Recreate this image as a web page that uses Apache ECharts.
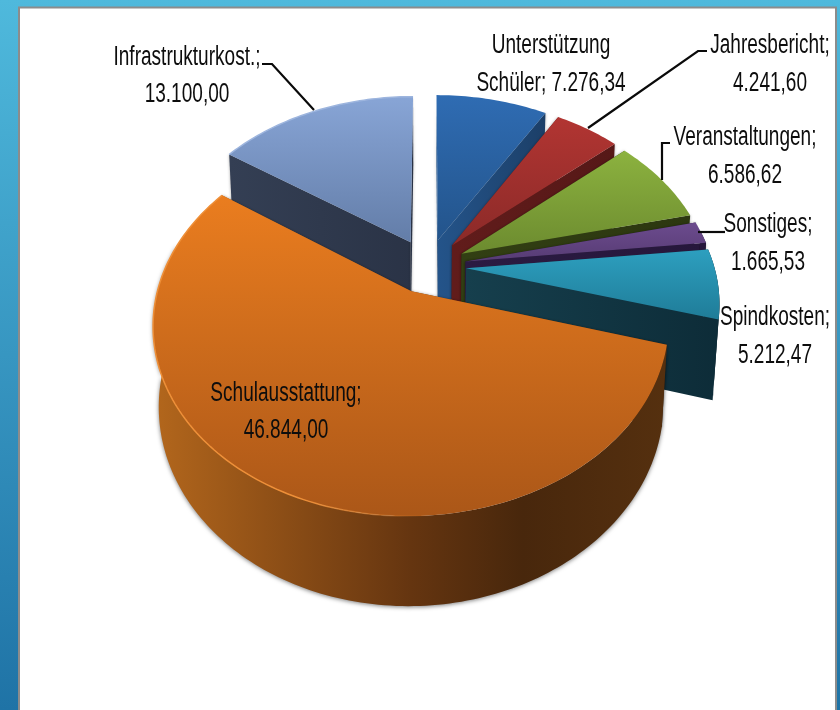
<!DOCTYPE html>
<html>
<head>
<meta charset="utf-8">
<style>
  html, body { margin: 0; padding: 0; background: #fff; }
  #main { width: 840px; height: 710px; }
</style>
<script src="https://cdn.jsdelivr.net/npm/echarts@6/dist/echarts.min.js"></script>
</head>
<body>
<div id="main"></div>
<script>
  // slices clockwise from 12 o'clock
  const categories = ['Unterstützung\nSchüler', 'Jahresbericht', 'Veranstaltungen', 'Sonstiges', 'Spindkosten', 'Schulausstattung', 'Infrastrukturkost.'];
  const amounts = [7276.34, 4241.60, 6586.62, 1665.53, 5212.47, 46844.00, 13100.00];
  const drawOrder = [6, 0, 1, 2, 3, 4, 5];

  // colours per slice: top from/to, end wall from/to
  const topFrom = ['#2f6cb3', '#b23532', '#8cb23f', '#6c4b8e', '#2d9fbf', '#ea7d1f', '#88a5d6'];
  const topTo = ['#23548b', '#8b2a28', '#6c8b2f', '#573c74', '#1f7c98', '#ab5718', '#637da8'];
  const wallFrom = ['#24548a', '#611c1b', '#323f13', '#2b1b42', '#163f4d', '#b0641c', '#343f54'];
  const wallTo = ['#1c3f68', '#561817', '#2c3710', '#26173b', '#0d2c38', '#48270c', '#2a3346'];

  // label centres and leader lines
  const labelPos = [[551, 64.5], [770, 64.5], [745, 156.5], [768, 243.5], [775, 336.5], [286, 412], [187, 76]];
  const leaders = [
    null,
    [[707, 51], [698, 51], [588, 128]],
    [[670, 143], [662, 143], [662, 180]],
    [[725, 232], [698, 232]],
    null,
    null,
    [[262, 64], [272, 64], [314, 110]]
  ];

  // camera fitted to the picture
  const cx = 428, cy = 266, focal = 248, depthY = 177.5, wallH = 79.6;
  const persp = 0.168, perspZ = 0.02, explode = 0.154;

  function project(x, y, z) {
    const w = 1 + persp * y - perspZ * z;
    return [cx + focal * x / w, cy - (depthY * y + wallH * z) / w];
  }

  const total = amounts.reduce((a, b) => a + b, 0);
  let run = 0;
  const slices = amounts.map(v => {
    const from = run / total * Math.PI * 2;
    run += v;
    const to = run / total * Math.PI * 2;
    const mid = (from + to) / 2;
    return {from, to, ox: Math.sin(mid) * explode, oy: Math.cos(mid) * explode};
  });

  function arcPoints(s, a0, a1, z) {
    const pts = [];
    const n = Math.max(2, Math.ceil((a1 - a0) / 0.02));
    for (let k = 0; k <= n; k++) {
      const a = a0 + (a1 - a0) * k / n;
      pts.push(project(s.ox + Math.sin(a), s.oy + Math.cos(a), z));
    }
    return pts;
  }

  function gradient(x0, y0, x1, y1, c0, c1) {
    return new echarts.graphic.LinearGradient(x0, y0, x1, y1, [
      {offset: 0, color: c0}, {offset: 1, color: c1}
    ], true);
  }

  function radialWall(s, a, fill, shadow) {
    const ox = s.ox + Math.sin(a), oy = s.oy + Math.cos(a);
    return {
      type: 'polygon',
      shape: {points: [project(s.ox, s.oy, 0), project(ox, oy, 0), project(ox, oy, -1), project(s.ox, s.oy, -1)]},
      style: {fill: fill, shadowBlur: shadow, shadowColor: 'rgba(0,0,0,0.35)'}
    };
  }

  function renderSlice(params, api) {
    const i = api.value(0);
    const s = slices[i];
    const top = arcPoints(s, s.from, s.to, 0);
    const xs = top.map(p => p[0]), ys = top.map(p => p[1]);
    const apex = project(s.ox, s.oy, 0);
    const minX = Math.min.apply(null, xs.concat(apex[0])), maxX = Math.max.apply(null, xs.concat(apex[0]));
    const minY = Math.min.apply(null, ys.concat(apex[1])), maxY = Math.max.apply(null, ys.concat(apex[1]));

    const wallFill = gradient(minX, 0, maxX, 0, wallFrom[i], wallTo[i]);
    const wallShadow = i === 4 ? 0 : 3;
    const radial = [radialWall(s, s.from, wallFill, wallShadow), radialWall(s, s.to, wallFill, wallShadow)];

    // outer wall only where it faces the viewer
    const outer = [];
    const a0 = Math.max(s.from, 80 * Math.PI / 180), a1 = Math.min(s.to, 285 * Math.PI / 180);
    if (a1 > a0) {
      const upper = arcPoints(s, a0, a1, 0), lower = arcPoints(s, a0, a1, -1).reverse();
      // orange wall is lit from the left, darkest right of the middle
      const fill = i === 5
        ? new echarts.graphic.LinearGradient(157, 0, 665, 0, [
            {offset: 0, color: '#b2661c'}, {offset: 0.5, color: '#653510'},
            {offset: 0.72, color: '#48270c'}, {offset: 1, color: '#55300f'}
          ], true)
        : wallTo[i];
      outer.push({
        type: 'polygon',
        shape: {points: upper.concat(lower)},
        style: {
          fill: fill,
          shadowBlur: i === 5 ? 4 : 0,
          shadowOffsetY: 1,
          shadowColor: 'rgba(0,0,0,0.5)'
        }
      });
    }

    // teal shows its end wall in front of the small outer sliver, orange the other way round
    const children = i === 4 ? outer.concat(radial) : radial.concat(outer);

    children.push({
      type: 'polygon',
      shape: {points: [apex].concat(top)},
      style: {fill: gradient(0, minY, 0, maxY, topFrom[i], topTo[i])}
    });

    // light rim on the left front of the top face, fades out towards the right
    const r0 = Math.max(s.from, 175 * Math.PI / 180);
    if (s.to > r0) {
      children.push({
        type: 'polyline',
        shape: {points: arcPoints(s, r0, s.to, 0)},
        style: {
          fill: null,
          stroke: i === 5 ? gradient(430, 0, 300, 0, 'rgba(238,143,56,0)', '#ee8f38') : '#9db5de',
          lineWidth: 1.5
        }
      });
    }
    return {type: 'group', children: children};
  }

  function formatValue(v) {
    return v.toLocaleString('de-DE', {minimumFractionDigits: 2, maximumFractionDigits: 2});
  }

  function renderLabel(params, api) {
    const i = api.value(0);
    const children = [];
    if (leaders[i]) {
      children.push({
        type: 'polyline',
        shape: {points: leaders[i]},
        style: {fill: null, stroke: '#0a0a0a', lineWidth: 2.2}
      });
    }
    const name = categories[i];
    const text = name + ';' + (name.indexOf('\n') >= 0 ? ' ' : '\n') + formatValue(amounts[i]);
    children.push({
      type: 'text',
      x: labelPos[i][0],
      y: labelPos[i][1],
      scaleX: 0.705,
      style: {
        text: text,
        font: '27px "Liberation Sans", sans-serif',
        lineHeight: 37.5,
        align: 'center',
        verticalAlign: 'middle',
        fill: '#0d0d0d'
      }
    });
    return {type: 'group', children: children};
  }

  const chart = echarts.init(document.getElementById('main'), null, {renderer: 'canvas'});
  chart.setOption({
    animation: false,
    graphic: [
      {
        type: 'rect', z: -10, silent: true,
        shape: {x: 0, y: 0, width: 840, height: 710},
        style: {fill: new echarts.graphic.LinearGradient(0, 0, 0, 710, [
          {offset: 0, color: '#4fb9dc'}, {offset: 1, color: '#1f73a6'}
        ], true)}
      },
      {
        type: 'rect', z: -9, silent: true,
        shape: {x: 19, y: 7.5, width: 817, height: 720},
        style: {fill: '#ffffff', stroke: '#8c8c8c', lineWidth: 2}
      }
    ],
    series: [
      {
        type: 'custom',
        coordinateSystem: 'none',
        silent: true,
        z: 2,
        data: drawOrder.map(i => [i]),
        renderItem: renderSlice
      },
      {
        type: 'custom',
        coordinateSystem: 'none',
        silent: true,
        z: 3,
        data: categories.map((c, i) => [i]),
        renderItem: renderLabel
      }
    ]
  });
</script>
</body>
</html>
